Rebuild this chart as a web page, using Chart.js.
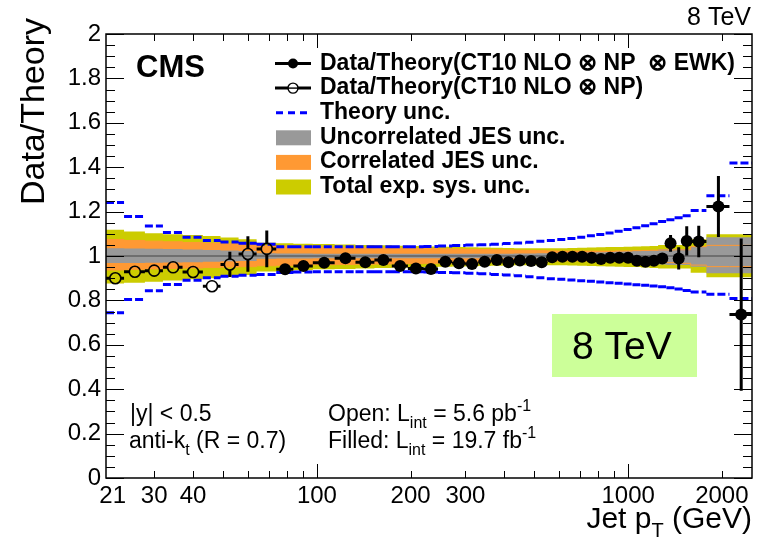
<!DOCTYPE html>
<html>
<head>
<meta charset="utf-8">
<script src="https://cdn.jsdelivr.net/npm/chart.js@4.4.1/dist/chart.umd.min.js"></script>
<style>
  html, body { margin: 0; padding: 0; background: #fff; }
  #wrap { width: 762px; height: 543px; }
</style>
</head>
<body>
<div id="wrap"><canvas id="ratioChart"></canvas></div>
<script>
const FONT = '"Liberation Sans", Arial, Helvetica, sans-serif';

// jet pT bin edges (GeV)
const binEdges = [21, 24, 28, 32, 37, 43, 49, 56, 64, 74, 84, 97, 114, 133, 153, 174, 196, 220,
  245, 272, 300, 330, 362, 395, 430, 468, 507, 548, 592, 638, 686, 737, 790, 846, 905, 967,
  1032, 1101, 1172, 1248, 1327, 1410, 1497, 1588, 1784, 2116, 2500];

// open points (5.6 pb-1), bins 0-8
const openPt = [22.5, 26, 30, 34.5, 40, 46, 52.5, 60, 69];
const openRatio = [0.90, 0.929, 0.934, 0.949, 0.928, 0.864, 0.962, 1.009, 1.032];
const openErr = [0.006, 0.008, 0.01, 0.012, 0.014, 0.025, 0.057, 0.08, 0.083];

// filled points (19.7 fb-1), bins 9-45
const filledPt = [79, 90.5, 105.5, 123.5, 143, 163.5, 185, 208, 232.5, 258.5, 286, 315, 346,
  378.5, 412.5, 449, 487.5, 527.5, 570, 615, 662, 711.5, 763.5, 818, 875.5, 936, 999.5,
  1066.5, 1136.5, 1210, 1287.5, 1368.5, 1453.5, 1542.5, 1686, 1950, 2308];
const filledRatio = [0.94, 0.955, 0.97, 0.99, 0.972, 0.982, 0.955, 0.944, 0.941, 0.974, 0.967,
  0.964, 0.974, 0.982, 0.972, 0.98, 0.977, 0.972, 0.994, 0.997, 0.997, 0.997, 0.992, 0.986,
  0.992, 0.992, 0.992, 0.979, 0.974, 0.979, 0.989, 1.057, 0.989, 1.068, 1.065, 1.223, 0.736];
const filledErr = [0.006, 0.005, 0.005, 0.005, 0.005, 0.005, 0.005, 0.005, 0.005, 0.005, 0.005,
  0.005, 0.005, 0.005, 0.005, 0.005, 0.005, 0.005, 0.005, 0.006, 0.006, 0.007, 0.007, 0.008,
  0.009, 0.01, 0.011, 0.012, 0.014, 0.017, 0.02, 0.038, 0.05, 0.066, 0.071, 0.137, 0.343];

// theory uncertainty, per bin
const theoryUp = [1.241, 1.178, 1.135, 1.106, 1.085, 1.07, 1.063, 1.057, 1.053,
  1.042, 1.042, 1.042, 1.042, 1.042, 1.042, 1.042, 1.042,
  1.043, 1.045, 1.047, 1.049, 1.051, 1.053, 1.056, 1.059, 1.062, 1.066,
  1.07, 1.074, 1.079, 1.085, 1.091, 1.097, 1.104, 1.111, 1.119, 1.127,
  1.136, 1.145, 1.155, 1.163, 1.172, 1.181, 1.205, 1.271, 1.419];
const theoryDown = [0.744, 0.804, 0.843, 0.872, 0.891, 0.902, 0.909, 0.913, 0.917,
  0.926, 0.928, 0.929, 0.929, 0.929, 0.929, 0.929, 0.929,
  0.928, 0.926, 0.924, 0.922, 0.92, 0.917, 0.914, 0.911, 0.907, 0.902,
  0.898, 0.895, 0.892, 0.889, 0.886, 0.883, 0.88, 0.877, 0.874, 0.871,
  0.868, 0.865, 0.861, 0.857, 0.851, 0.845, 0.838, 0.828, 0.808];

// uncorrelated JES, per bin
const uncUp = [1.037, 1.035, 1.034, 1.033, 1.031, 1.029, 1.027, 1.025, 1.022,
  1.012, 1.011, 1.011, 1.01, 1.01, 1.01, 1.01, 1.01,
  1.01, 1.01, 1.01, 1.01, 1.01, 1.01, 1.01, 1.01, 1.011, 1.011,
  1.012, 1.012, 1.013, 1.014, 1.015, 1.016, 1.017, 1.018, 1.02, 1.021,
  1.022, 1.024, 1.025, 1.03, 1.03, 1.032, 1.032, 1.042, 1.085];
const uncDown = [0.967, 0.968, 0.969, 0.97, 0.971, 0.972, 0.974, 0.976, 0.978,
  0.988, 0.989, 0.989, 0.99, 0.99, 0.99, 0.99, 0.99,
  0.99, 0.99, 0.99, 0.99, 0.99, 0.99, 0.99, 0.99, 0.989, 0.989,
  0.988, 0.988, 0.987, 0.986, 0.985, 0.984, 0.983, 0.982, 0.98, 0.979,
  0.978, 0.976, 0.975, 0.962, 0.96, 0.959, 0.959, 0.952, 0.922];

// correlated JES, per bin
const corUp = [1.078, 1.074, 1.07, 1.067, 1.064, 1.061, 1.058, 1.055, 1.052,
  1.046, 1.044, 1.042, 1.04, 1.038, 1.037, 1.036, 1.035,
  1.034, 1.033, 1.032, 1.031, 1.03, 1.029, 1.028, 1.027, 1.026, 1.025,
  1.024, 1.023, 1.022, 1.022, 1.022, 1.022, 1.022, 1.022, 1.023, 1.023,
  1.024, 1.025, 1.026, 1.027, 1.027, 1.028, 1.028, 1.042, 1.048];
const corDown = [0.934, 0.937, 0.94, 0.942, 0.944, 0.946, 0.948, 0.95, 0.952,
  0.956, 0.958, 0.96, 0.961, 0.962, 0.963, 0.964, 0.965,
  0.966, 0.967, 0.968, 0.969, 0.97, 0.971, 0.972, 0.973, 0.974, 0.975,
  0.976, 0.977, 0.978, 0.978, 0.978, 0.978, 0.978, 0.978, 0.977, 0.977,
  0.976, 0.975, 0.974, 0.973, 0.97, 0.968, 0.967, 0.959, 0.952];

// total experimental systematic, per bin
const totUp = [1.143, 1.118, 1.11, 1.103, 1.098, 1.095, 1.09, 1.083, 1.075,
  1.06, 1.057, 1.055, 1.054, 1.052, 1.05, 1.048, 1.046,
  1.045, 1.043, 1.042, 1.04, 1.039, 1.038, 1.037, 1.036, 1.035, 1.035,
  1.035, 1.035, 1.035, 1.036, 1.037, 1.038, 1.039, 1.04, 1.041, 1.042,
  1.043, 1.044, 1.045, 1.05, 1.05, 1.05, 1.05, 1.075, 1.098];
const totDown = [0.864, 0.876, 0.88, 0.884, 0.89, 0.895, 0.90, 0.908, 0.914,
  0.93, 0.933, 0.936, 0.94, 0.942, 0.944, 0.946, 0.948,
  0.95, 0.951, 0.952, 0.953, 0.954, 0.955, 0.956, 0.957, 0.958, 0.958,
  0.958, 0.958, 0.958, 0.957, 0.956, 0.955, 0.954, 0.953, 0.952, 0.951,
  0.95, 0.948, 0.946, 0.944, 0.944, 0.944, 0.944, 0.924, 0.904];

const xTickLabels = [21, 30, 40, 100, 200, 300, 1000, 2000];
const xMajorTicks = [100, 1000];
const xMinorTicks = [30, 40, 50, 60, 70, 80, 90, 200, 300, 400, 500, 600, 700, 800, 900, 2000];

const legendRows = [
  "Data/Theory(CT10 NLO \u2297 NP  \u2297 EWK)",
  "Data/Theory(CT10 NLO \u2297 NP)",
  "Theory unc.",
  "Uncorrelated JES unc.",
  "Correlated JES unc.",
  "Total exp. sys. unc.",
];

const MARKER_R = 5.5;

// helpers building the library datasets from the arrays above
function histLine(vals) {
  const pts = vals.map((v, i) => ({ x: binEdges[i], y: v }));
  pts.push({ x: binEdges[vals.length], y: vals[vals.length - 1] });
  return pts;
}

function binSegments(vals) {
  const pts = [];
  vals.forEach((v, i) => {
    pts.push({ x: binEdges[i], y: v }, { x: binEdges[i + 1], y: v }, { x: binEdges[i + 1], y: null });
  });
  return pts;
}

function errorBars(xs, ys, errs, firstBin) {
  const pts = [];
  xs.forEach((x, i) => {
    const lo = binEdges[firstBin + i];
    const hi = binEdges[firstBin + i + 1];
    pts.push({ x: x, y: ys[i] - errs[i] }, { x: x, y: ys[i] + errs[i] }, { x: x, y: null });
    pts.push({ x: lo, y: ys[i] }, { x: hi, y: ys[i] }, { x: hi, y: null });
  });
  return pts;
}

function band(up, down, color, order, edgeColor) {
  const edge = edgeColor || "rgba(0,0,0,0)";
  return [
    { data: histLine(up), stepped: "after", fill: "+1", backgroundColor: color,
      borderColor: edge, borderWidth: 1, pointRadius: 0, order: order },
    { data: histLine(down), stepped: "after", fill: false,
      borderColor: edge, borderWidth: 1, pointRadius: 0, order: order },
  ];
}

function richText(ctx, parts, x, y, size, align) {
  const fontOf = (k) => (k === "n" ? size : Math.round(size * 0.68)) + "px " + FONT;
  const widths = parts.map(([t, k]) => { ctx.font = fontOf(k); return ctx.measureText(t).width; });
  let cx = align === "right" ? x - widths.reduce((a, b) => a + b, 0) : x;
  ctx.textAlign = "left";
  ctx.textBaseline = "alphabetic";
  parts.forEach(([t, k], i) => {
    ctx.font = fontOf(k);
    const dy = k === "sub" ? size * 0.3 : k === "sup" ? -size * 0.42 : 0;
    ctx.fillText(t, cx, y + dy);
    cx += widths[i];
  });
}

// frame and inward ticks, ROOT style; error bars stop at open markers
const rootFrame = {
  id: "rootFrame",
  beforeDatasetDraw(chart, args) {
    if (chart.data.datasets[args.index].label !== "open errors") return;
    const { ctx, scales } = chart;
    ctx.save();
    ctx.beginPath();
    ctx.rect(0, 0, chart.width, chart.height);
    openPt.forEach((x, i) => {
      const px = scales.x.getPixelForValue(x);
      const py = scales.y.getPixelForValue(openRatio[i]);
      ctx.moveTo(px + MARKER_R, py);
      ctx.arc(px, py, MARKER_R, 0, Math.PI * 2);
    });
    ctx.clip("evenodd");
  },
  afterDatasetDraw(chart, args) {
    if (chart.data.datasets[args.index].label !== "open errors") return;
    chart.ctx.restore();
  },
  afterDatasetsDraw(chart) {
    const { ctx, chartArea: a, scales } = chart;
    const x = scales.x, y = scales.y;
    ctx.save();
    ctx.strokeStyle = "#000";
    ctx.lineWidth = 1;
    ctx.beginPath();
    const xt = (v, len) => {
      const px = Math.round(x.getPixelForValue(v)) + 0.5;
      ctx.moveTo(px, a.bottom); ctx.lineTo(px, a.bottom - len);
      ctx.moveTo(px, a.top); ctx.lineTo(px, a.top + len);
    };
    xMajorTicks.forEach((v) => xt(v, 14));
    xMinorTicks.forEach((v) => xt(v, 7));
    for (let i = 0; i <= 40; i++) {
      const py = Math.round(y.getPixelForValue(i * 0.05)) + 0.5;
      const len = i % 4 === 0 ? 18 : 9;
      ctx.moveTo(a.left, py); ctx.lineTo(a.left + len, py);
      ctx.moveTo(a.right, py); ctx.lineTo(a.right - len, py);
    }
    ctx.stroke();
    ctx.lineWidth = 1.5;
    ctx.strokeRect(a.left, a.top, a.right - a.left, a.bottom - a.top);
    ctx.restore();
  },
  afterDraw(chart) {
    const ctx = chart.ctx;
    ctx.save();
    ctx.fillStyle = "#000";

    // legend
    const rowY = legendRows.map((_, i) => 63.5 + i * 24.6);
    ctx.lineWidth = 3;
    ctx.strokeStyle = "#000";
    [0, 1].forEach((i) => {
      ctx.beginPath(); ctx.moveTo(275, rowY[i]); ctx.lineTo(311, rowY[i]); ctx.stroke();
    });
    ctx.beginPath(); ctx.arc(293, rowY[0], 5, 0, Math.PI * 2); ctx.fill();
    ctx.lineWidth = 1.4;
    ctx.fillStyle = "#fff";
    ctx.beginPath(); ctx.arc(293, rowY[1], 5, 0, Math.PI * 2); ctx.fill(); ctx.stroke();
    ctx.beginPath(); ctx.moveTo(288, rowY[1]); ctx.lineTo(298, rowY[1]); ctx.stroke();
    ctx.strokeStyle = "#0000ff";
    ctx.lineWidth = 3;
    ctx.setLineDash([7, 5]);
    ctx.beginPath(); ctx.moveTo(276, rowY[2]); ctx.lineTo(312, rowY[2]); ctx.stroke();
    ctx.setLineDash([]);
    ["#999999", "#ff9933", "#cccc00"].forEach((c, i) => {
      ctx.fillStyle = c;
      ctx.fillRect(276, rowY[3 + i] - 7, 35, 15);
    });
    ctx.fillStyle = "#000";
    ctx.font = "bold 23px " + FONT;
    ctx.textAlign = "left";
    ctx.textBaseline = "middle";
    legendRows.forEach((t, i) => ctx.fillText(t, 320, rowY[i]));

    // labels
    ctx.textBaseline = "alphabetic";
    ctx.font = "bold 31px " + FONT;
    ctx.fillText("CMS", 136, 77);
    ctx.font = "25px " + FONT;
    ctx.textAlign = "right";
    ctx.fillText("8 TeV", 751, 25);

    ctx.fillStyle = "rgb(204,255,153)";
    ctx.fillRect(552, 314, 145, 63);
    ctx.fillStyle = "#000";
    ctx.textAlign = "left";
    ctx.font = "39px " + FONT;
    ctx.fillText("8 TeV", 572, 359);

    ctx.font = "23px " + FONT;
    ctx.fillText("|y| < 0.5", 130, 421);
    richText(ctx, [["anti-k", "n"], ["t", "sub"], [" (R = 0.7)", "n"]], 129, 448, 23);
    richText(ctx, [["Open: L", "n"], ["int", "sub"], [" = 5.6 pb", "n"], ["-1", "sup"]], 328, 421, 23);
    richText(ctx, [["Filled: L", "n"], ["int", "sub"], [" = 19.7 fb", "n"], ["-1", "sup"]], 328, 448, 23);

    // axis titles
    richText(ctx, [["Jet p", "n"], ["T", "sub"], [" (GeV)", "n"]], 752, 528, 30, "right");
    ctx.save();
    ctx.translate(44, 18);
    ctx.rotate(-Math.PI / 2);
    ctx.textAlign = "right";
    ctx.font = "34px " + FONT;
    ctx.fillText("Data/Theory", 0, 0);
    ctx.restore();

    ctx.restore();
  },
};

const ratioChart = document.getElementById("ratioChart");

new Chart(ratioChart, {
  type: "line",
  data: {
    datasets: [
      {
        label: "Data/Theory(CT10 NLO x NP x EWK)",
        data: filledPt.map((x, i) => ({ x: x, y: filledRatio[i] })),
        showLine: false,
        pointRadius: MARKER_R + 0.5,
        pointBackgroundColor: "#000",
        pointBorderColor: "#000",
        pointBorderWidth: 0,
        order: 1,
      },
      {
        label: "Data/Theory(CT10 NLO x NP)",
        data: openPt.map((x, i) => ({ x: x, y: openRatio[i] })),
        showLine: false,
        pointRadius: MARKER_R,
        pointBackgroundColor: "rgba(0,0,0,0)",
        pointBorderColor: "#000",
        pointBorderWidth: 1.6,
        order: 1,
      },
      {
        label: "filled errors",
        data: errorBars(filledPt, filledRatio, filledErr, 9),
        borderColor: "#000",
        borderWidth: 3,
        pointRadius: 0,
        spanGaps: false,
        order: 2,
      },
      {
        label: "open errors",
        data: errorBars(openPt, openRatio, openErr, 0),
        borderColor: "#000",
        borderWidth: 3,
        pointRadius: 0,
        spanGaps: false,
        order: 2,
      },
      {
        label: "Theory unc. up",
        data: binSegments(theoryUp),
        borderColor: "#0000ff",
        borderWidth: 3,
        borderDash: [8, 3],
        pointRadius: 0,
        spanGaps: false,
        order: 4,
      },
      {
        label: "Theory unc. down",
        data: binSegments(theoryDown),
        borderColor: "#0000ff",
        borderWidth: 3,
        borderDash: [8, 3],
        pointRadius: 0,
        spanGaps: false,
        order: 4,
      },
      {
        label: "unity",
        data: [{ x: binEdges[0], y: 1 }, { x: binEdges[binEdges.length - 1], y: 1 }],
        borderColor: "#444",
        borderWidth: 1.2,
        pointRadius: 0,
        order: 5,
      },
      ...band(uncUp, uncDown, "#999999", 10, null),
      ...band(corUp, corDown, "#ff9933", 20, "#ff9933"),
      ...band(totUp, totDown, "#cccc00", 30, null),
    ],
  },
  options: {
    responsive: true,
    maintainAspectRatio: false,
    animation: false,
    devicePixelRatio: 1,
    events: [],
    layout: { padding: { left: 0, right: 10, top: 34, bottom: 0 } },
    plugins: {
      legend: { display: false },
      tooltip: { enabled: false },
      filler: { drawTime: "beforeDatasetsDraw" },
    },
    scales: {
      x: {
        type: "logarithmic",
        min: 21,
        max: 2500,
        grid: { display: false, drawTicks: false },
        border: { display: false },
        afterBuildTicks: (s) => { s.ticks = xTickLabels.map((v) => ({ value: v })); },
        afterFit: (s) => { s.height = 65; },
        ticks: {
          autoSkip: false,
          maxRotation: 0,
          padding: 4,
          color: "#000",
          font: { family: FONT, size: 24 },
          callback: (v) => (v === 21 ? "  21" : String(v)),
        },
      },
      y: {
        min: 0,
        max: 2,
        grid: { display: false, drawTicks: false },
        border: { display: false },
        afterFit: (s) => { s.width = 106; },
        ticks: {
          stepSize: 0.2,
          padding: 5,
          color: "#000",
          font: { family: FONT, size: 24 },
          callback: (v) => String(+v.toFixed(1)),
        },
      },
    },
  },
  plugins: [rootFrame],
});
</script>
</body>
</html>
